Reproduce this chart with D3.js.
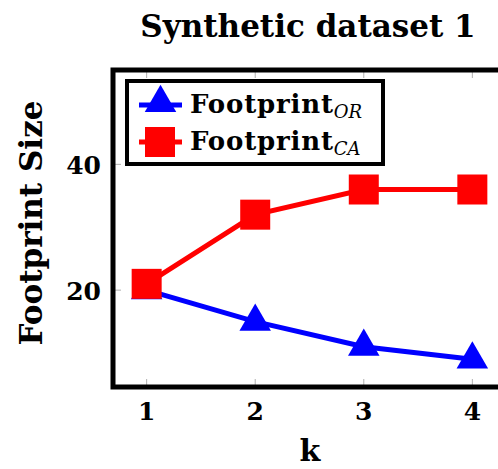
<!DOCTYPE html>
<html>
<head>
<meta charset="utf-8">
<script src="https://cdn.jsdelivr.net/npm/d3@7"></script>
<style>
  body { margin: 0; background: #fff; }
  text { font-family: "DejaVu Serif", "Liberation Serif", serif; font-weight: bold; }
</style>
</head>
<body>
<div id="chart"></div>
<script>
var kValues = [1, 2, 3, 4];
var footprintOR = [20, 15, 11, 9];
var footprintCA = [21, 32, 36, 36];
var yTicks = [20, 40];

var width = 498, height = 469;
var plotLeft = 113, plotTop = 70, plotRight = 506, plotBottom = 387;

var svg = d3.select("#chart").append("svg")
    .attr("width", width)
    .attr("height", height);

var x = d3.scaleLinear().domain([0.69, 4.31]).range([plotLeft, plotRight]);
var y = d3.scaleLinear().domain([4.6, 55]).range([plotBottom, plotTop]);

// inner tick marks (light gray), pgfplots style
var ticks = svg.append("g").attr("stroke", "#b0b0b0").attr("stroke-width", 1);
kValues.forEach(function(k) {
  ticks.append("line").attr("x1", x(k)).attr("x2", x(k)).attr("y1", plotBottom).attr("y2", plotBottom - 8);
  ticks.append("line").attr("x1", x(k)).attr("x2", x(k)).attr("y1", plotTop).attr("y2", plotTop + 8);
});
yTicks.forEach(function(t) {
  ticks.append("line").attr("x1", plotLeft).attr("x2", plotLeft + 8).attr("y1", y(t)).attr("y2", y(t));
  ticks.append("line").attr("x1", plotRight).attr("x2", plotRight - 8).attr("y1", y(t)).attr("y2", y(t));
});

// tick labels
svg.append("g").selectAll("text").data(kValues).enter().append("text")
    .attr("x", function(d) { return x(d); })
    .attr("y", plotBottom + 33)
    .attr("text-anchor", "middle")
    .attr("font-size", 25)
    .text(function(d) { return d; });

svg.append("g").selectAll("text").data(yTicks).enter().append("text")
    .attr("x", plotLeft - 12)
    .attr("y", function(d) { return y(d) + 10; })
    .attr("text-anchor", "end")
    .attr("font-size", 25)
    .text(function(d) { return d; });

var line = d3.line()
    .x(function(d, i) { return x(kValues[i]); })
    .y(function(d) { return y(d); });

var plot = svg.append("g");

plot.append("path").datum(footprintOR)
    .attr("d", line).attr("fill", "none").attr("stroke", "#0000ff").attr("stroke-width", 5);
plot.append("path").datum(footprintCA)
    .attr("d", line).attr("fill", "none").attr("stroke", "#ff0000").attr("stroke-width", 5);

var tri = d3.symbol().type(d3.symbolTriangle).size(430);

plot.selectAll(".tri").data(footprintOR).enter().append("path")
    .attr("class", "tri")
    .attr("d", tri)
    .attr("transform", function(d, i) { return "translate(" + x(kValues[i]) + "," + y(d) + ")"; })
    .attr("fill", "#0000ff");

plot.selectAll(".sq").data(footprintCA).enter().append("rect")
    .attr("class", "sq")
    .attr("x", function(d, i) { return x(kValues[i]) - 15; })
    .attr("y", function(d) { return y(d) - 15; })
    .attr("width", 30).attr("height", 30)
    .attr("fill", "#ff0000");

// frame
svg.append("rect")
    .attr("x", plotLeft).attr("y", plotTop)
    .attr("width", plotRight - plotLeft).attr("height", plotBottom - plotTop)
    .attr("fill", "none").attr("stroke", "#000").attr("stroke-width", 5);

// legend
var lg = svg.append("g").attr("transform", "translate(127,81)");
lg.append("rect").attr("width", 256).attr("height", 83)
    .attr("fill", "#fff").attr("stroke", "#000").attr("stroke-width", 4);

lg.append("line").attr("x1", 12).attr("x2", 55).attr("y1", 24).attr("y2", 24)
    .attr("stroke", "#0000ff").attr("stroke-width", 5);
lg.append("path").attr("d", tri).attr("transform", "translate(33.5,22)").attr("fill", "#0000ff");
lg.append("line").attr("x1", 12).attr("x2", 55).attr("y1", 61).attr("y2", 61)
    .attr("stroke", "#ff0000").attr("stroke-width", 5);
lg.append("rect").attr("x", 18).attr("y", 46).attr("width", 30).attr("height", 30).attr("fill", "#ff0000");

var names = [["Footprint", "OR"], ["Footprint", "CA"]];
names.forEach(function(n, i) {
  var t = lg.append("text").attr("x", 63).attr("y", 32 + i * 37).attr("font-size", 26);
  t.append("tspan").attr("textLength", 143).text(n[0]);
  t.append("tspan").attr("dy", 5).attr("font-size", 18).attr("font-style", "italic")
      .attr("font-weight", "normal").text(n[1]);
});

// titles
svg.append("text")
    .attr("x", 308).attr("y", 37)
    .attr("text-anchor", "middle")
    .attr("font-size", 31)
    .text("Synthetic dataset 1");

svg.append("text")
    .attr("transform", "translate(42,223) rotate(-90)")
    .attr("text-anchor", "middle")
    .attr("font-size", 31)
    .text("Footprint Size");

svg.append("text")
    .attr("x", 310).attr("y", 461)
    .attr("text-anchor", "middle")
    .attr("font-size", 30)
    .text("k");
</script>
</body>
</html>
